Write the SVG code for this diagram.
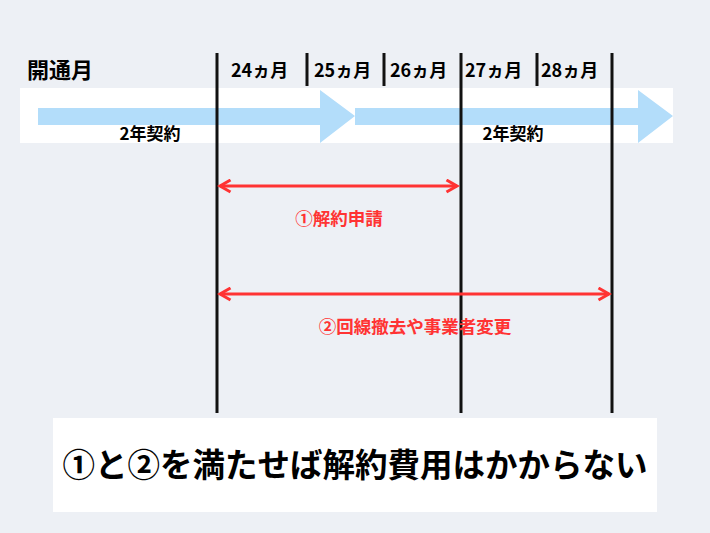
<svg xmlns="http://www.w3.org/2000/svg" width="710" height="533" viewBox="0 0 710 533">
<style>
text{font-family:"Noto Sans CJK JP","Noto Sans",sans-serif;font-weight:bold}
.v{stroke:#111;stroke-width:3}
.r{stroke:#ff3333;stroke-width:3;fill:none}
.a{fill:#b3ddfa}
</style>
<defs>
<marker id="ah" viewBox="0 0 10 10" refX="8" refY="5" markerWidth="5" markerHeight="5" orient="auto-start-reverse"><path d="M1,1 L8,5 L1,9" fill="none" stroke="#ff3333" stroke-width="2"/></marker>
</defs>
<rect width="710" height="533" fill="#edf0f5"/>
<rect x="20" y="88" width="653" height="55" fill="#fff"/>
<g id="arrow1"><path class="a" d="M38,108 H320 V90 L355,116 L320,143 V125 H38 Z"/><text x="150" y="140" font-size="17" text-anchor="middle">2年契約</text></g>
<g id="arrow2"><path class="a" d="M355,108 H638 V90 L673,116 L638,143 V125 H355 Z"/><text x="513" y="140" font-size="17" text-anchor="middle">2年契約</text></g>
<text x="27" y="78" font-size="22">開通月</text>
<g id="months" font-size="18">
<text x="231" y="77">24ヵ月</text><text x="314" y="77">25ヵ月</text><text x="390" y="77">26ヵ月</text><text x="465" y="77">27ヵ月</text><text x="541" y="77">28ヵ月</text>
</g>
<g id="connectors">
<line class="v" x1="217" y1="53" x2="217" y2="413"/>
<line class="v" x1="461" y1="53" x2="461" y2="413"/>
<line class="v" x1="612" y1="53" x2="612" y2="413"/>
<line class="v" x1="307" y1="53" x2="307" y2="86"/>
<line class="v" x1="384" y1="53" x2="384" y2="86"/>
<line class="v" x1="537" y1="53" x2="537" y2="86"/>
<line class="r" x1="220" y1="186" x2="457" y2="186" marker-start="url(#ah)" marker-end="url(#ah)"/>
<line class="r" x1="220" y1="294" x2="609" y2="294" marker-start="url(#ah)" marker-end="url(#ah)"/>
</g>
<g id="l1"><text x="339" y="225" font-size="17.5" fill="#ff3333" text-anchor="middle">①解約申請</text></g>
<g id="l2"><text x="415" y="333" font-size="17.5" fill="#ff3333" text-anchor="middle">②回線撤去や事業者変更</text></g>
<g id="note"><rect x="53" y="418" width="604" height="94" fill="#fff"/>
<text x="355" y="477" font-size="32.5" text-anchor="middle">①と②を満たせば解約費用はかからない</text></g>
</svg>
